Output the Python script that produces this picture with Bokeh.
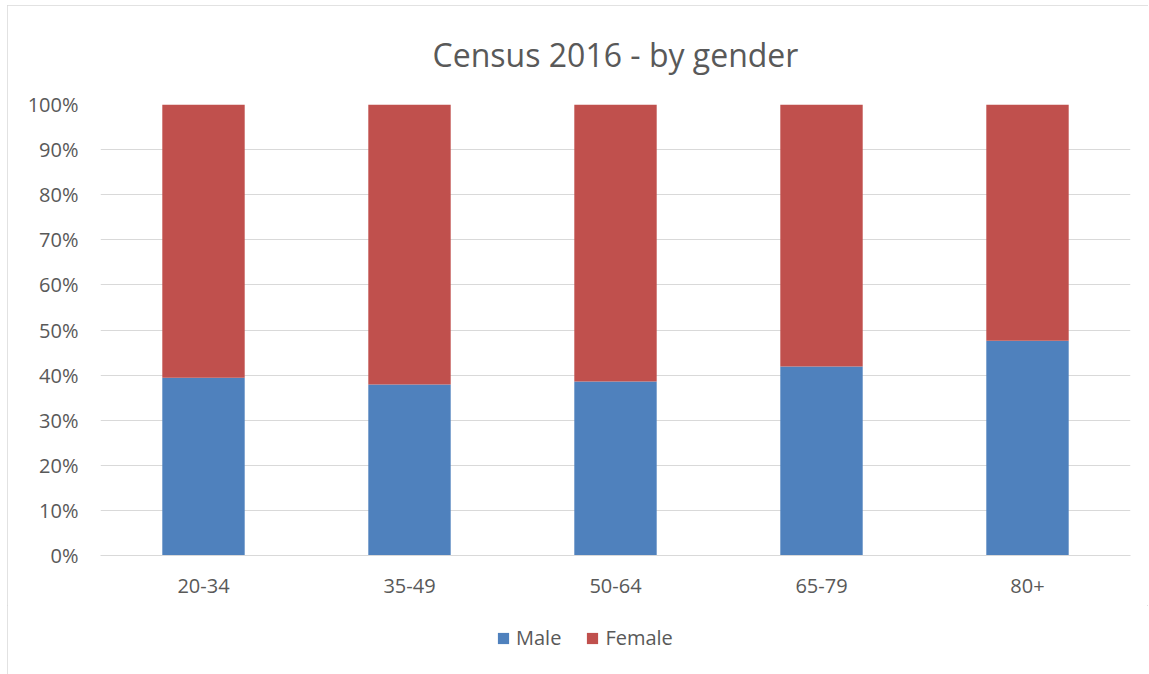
from bokeh.plotting import figure
from bokeh.layouts import column
from bokeh.models import (ColumnDataSource, FactorRange, FixedTicker, NumeralTickFormatter,
                          Legend, LegendItem, Range1d, Title)
from bokeh.embed import file_html
from bokeh.resources import INLINE

age_groups = ["20-34", "35-49", "50-64", "65-79", "80+"]
male = [0.394, 0.379, 0.386, 0.419, 0.476]
female = [0.606, 0.621, 0.614, 0.581, 0.524]
series = ["Male", "Female"]
colors = ["#4F81BD", "#C0504D"]
y_ticks = [i / 10 for i in range(11)]

src = ColumnDataSource(dict(age=age_groups, Male=male, Female=female))

FONT = "Open Sans"
TXT = "#595959"

p = figure(frame_width=1030, frame_height=451, output_backend="svg", toolbar_location=None,
           x_range=FactorRange(factors=age_groups, range_padding=0),
           y_range=Range1d(0, 1), title=None,
           min_border_left=93, min_border_right=18, min_border_top=99, min_border_bottom=50)

p.vbar_stack(series, x="age", width=0.4, color=colors, source=src, line_color=None)

t = Title(text="Census 2016 - by gender", align="center", text_font=FONT,
          text_font_size="32px", text_color=TXT, text_font_style="normal",
          vertical_align="top", standoff=54)
p.add_layout(t, "above")

p.outline_line_color = None
p.background_fill_color = "white"
p.border_fill_color = "white"

p.yaxis.ticker = FixedTicker(ticks=y_ticks)
p.yaxis.formatter = NumeralTickFormatter(format="0%")
p.yaxis.axis_line_color = None
p.yaxis.major_tick_line_color = None
p.yaxis.minor_tick_line_color = None
p.yaxis.major_tick_out = 0
p.yaxis.major_tick_in = 0
p.yaxis.major_label_standoff = 22
p.yaxis.major_label_text_font = FONT
p.yaxis.major_label_text_font_size = "20px"
p.yaxis.major_label_text_color = TXT

p.xaxis.axis_line_color = "#d9d9d9"
p.xaxis.major_tick_line_color = None
p.xaxis.minor_tick_line_color = None
p.xaxis.major_tick_out = 0
p.xaxis.major_tick_in = 0
p.xaxis.major_label_standoff = 23
p.xaxis.major_label_text_font = FONT
p.xaxis.major_label_text_font_size = "20px"
p.xaxis.major_label_text_color = TXT

p.xgrid.grid_line_color = None
p.ygrid.ticker = FixedTicker(ticks=y_ticks)
p.ygrid.grid_line_color = "#d9d9d9"
p.ygrid.grid_line_width = 1

# legend strip below the chart (its renderers hold a zero-height bar, so nothing shows)
lp = figure(width=1141, height=70, output_backend="svg", toolbar_location=None,
            x_range=Range1d(0, 1), y_range=Range1d(0, 1),
            x_axis_type=None, y_axis_type=None,
            min_border_left=0, min_border_right=0, min_border_top=0, min_border_bottom=0)
lp.outline_line_color = None
lp.xgrid.grid_line_color = None
lp.ygrid.grid_line_color = None
lp.border_fill_color = "white"
leg_src = ColumnDataSource(dict(x=[0.5], top=[0.0]))
items = []
for s, c in zip(series, colors):
    r = lp.vbar(x="x", top="top", width=0.001, color=c, line_color=None, source=leg_src)
    items.append(LegendItem(label=s, renderers=[r]))

legend = Legend(items=items, orientation="horizontal", location=(396, 24),
                label_text_font=FONT, label_text_font_size="20px", label_text_color=TXT,
                glyph_width=14, glyph_height=14, label_standoff=6, spacing=24,
                border_line_color=None, background_fill_alpha=0, margin=0, padding=0)
lp.add_layout(legend, "center")

layout = column(p, lp, spacing=0)
layout.margin = (5, 0, 0, 7)
layout.styles = {"outline": "1px solid #d9d9d9", "outline-offset": "-1px"}

open("out.html", "w").write(file_html(layout, INLINE))
